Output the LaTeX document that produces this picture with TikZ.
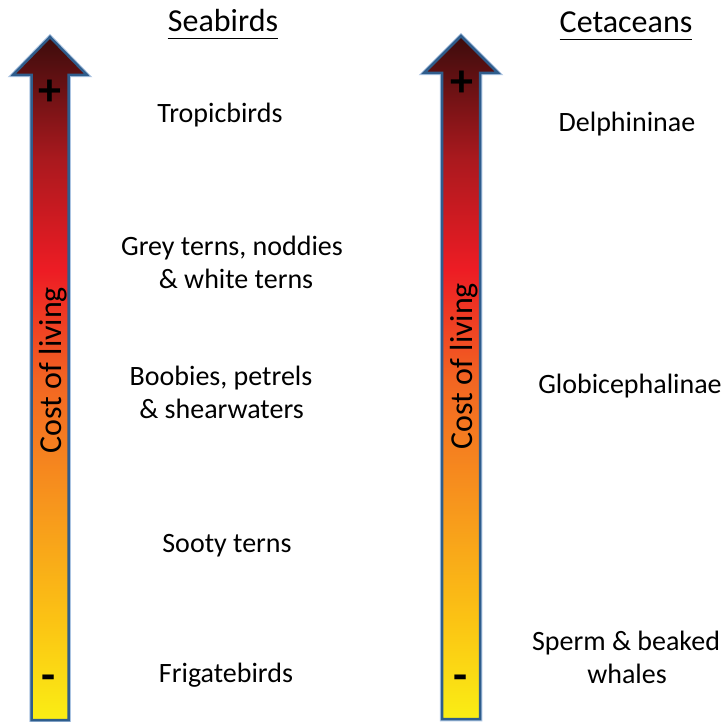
\documentclass[tikz,border=0pt]{standalone}
\usepackage{fontspec}
\setmainfont{Carlito}
\definecolor{gc0}{RGB}{250,238,20}
\definecolor{gc1}{RGB}{251,195,20}
\definecolor{gc2}{RGB}{247,148,29}
\definecolor{gc3}{RGB}{242,101,34}
\definecolor{gc4}{RGB}{237,28,36}
\definecolor{gc5}{RGB}{170,25,30}
\definecolor{gc6}{RGB}{60,12,12}
\definecolor{rim}{RGB}{47,93,140}
\definecolor{glow}{RGB}{170,195,225}
\pgfdeclareverticalshading{costgrad}{100bp}{color(0bp)=(gc0); color(25bp)=(gc0); color(32.3bp)=(gc1); color(41.1bp)=(gc2); color(49.9bp)=(gc3); color(57.9bp)=(gc4); color(66bp)=(gc5); color(75bp)=(gc6); color(100bp)=(gc6)}
\tikzset{
  lbl/.style={font=\fontsize{28}{33}\selectfont, anchor=base, inner sep=0pt},
  hdr/.style={font=\fontsize{32}{36}\selectfont, anchor=base, inner sep=0pt},
  costlbl/.style={font=\fontsize{32}{36}\selectfont, rotate=90, inner sep=0pt},
  sign/.style={font=\fontsize{46}{50}\selectfont\bfseries, inner sep=0pt},
  arrowbody/.style={shading=costgrad, draw=rim, line width=2.5pt, line join=miter},
  arrowglow/.style={draw=glow, line width=4.5pt, line join=miter}
}
\begin{document}
\begin{tikzpicture}[x=1pt,y=-1pt]
\useasboundingbox (0,0) rectangle (723,722);
% arrow 1
\draw[arrowglow] (50,37) -- (87,75) -- (68.5,75) -- (68.5,720) -- (31.5,720) -- (31.5,75) -- (13,75) -- cycle;
\path[arrowbody] (50,37) -- (87,75) -- (68.5,75) -- (68.5,720) -- (31.5,720) -- (31.5,75) -- (13,75) -- cycle;
% arrow 2
\draw[arrowglow] (461,36) -- (498,73) -- (480,73) -- (480,719) -- (442,719) -- (442,73) -- (424,73) -- cycle;
\path[arrowbody] (461,36) -- (498,73) -- (480,73) -- (480,719) -- (442,719) -- (442,73) -- (424,73) -- cycle;

\node[costlbl] (cost1) at (53,370) {Cost of living};
\node[costlbl] (cost2) at (464,366) {Cost of living};
\node[sign] (plus1) at (50,93) {+};
\node[sign] (plus2) at (462,84) {+};
\node[sign, anchor=base] (minus1) at (49,690) {-};
\node[sign, anchor=base] (minus2) at (461,690) {-};

\node[hdr] (sea) at (223,32) {Seabirds};
\node[hdr] (cet) at (626,33) {Cetaceans};
\draw[line width=1.8pt] ([yshift=-6.5pt]sea.base west) -- ([yshift=-6.5pt]sea.base east);
\draw[line width=1.8pt] ([yshift=-6.5pt]cet.base west) -- ([yshift=-6.5pt]cet.base east);

\node[lbl] (trop) at (220,123) {Tropicbirds};
\node[lbl] (grey1) at (232,255) {Grey terns, noddies};
\node[lbl] (grey2) at (236,288) {\& white terns};
\node[lbl] (boob1) at (221,385) {Boobies, petrels};
\node[lbl] (boob2) at (221.5,418) {\& shearwaters};
\node[lbl] (sooty) at (227,552) {Sooty terns};
\node[lbl] (friga) at (226,682) {Frigatebirds};

\node[lbl] (delph) at (627,132) {Delphininae};
\node[lbl] (glob) at (630,393) {Globicephalinae};
\node[lbl] (sperm1) at (626,650) {Sperm \& beaked};
\node[lbl] (sperm2) at (627,683) {whales};
\end{tikzpicture}
\end{document}
